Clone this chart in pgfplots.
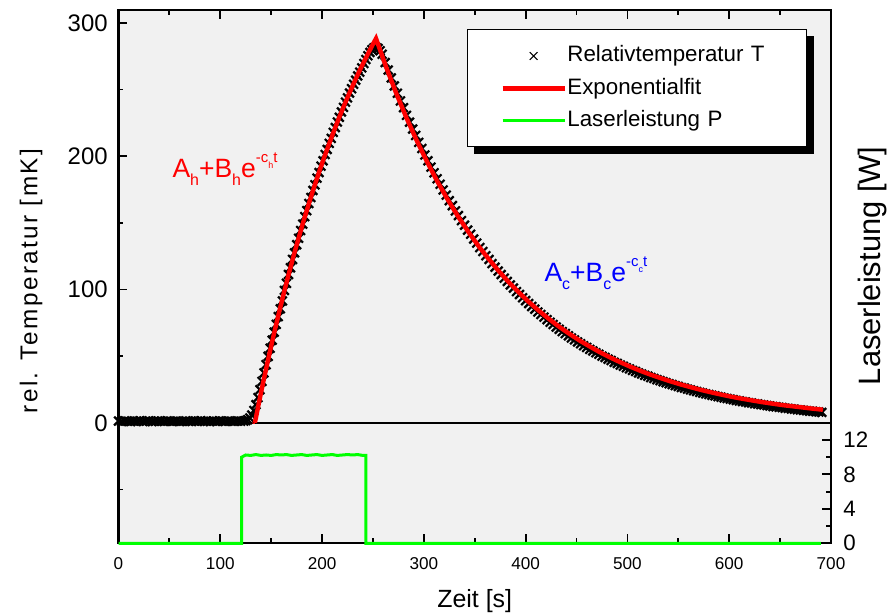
\documentclass[border=0pt]{standalone}
\usepackage{pgfplots}
\pgfplotsset{compat=1.18}
\usepackage{fontspec}
\setmainfont{Liberation Sans}
\newfontfamily\spaced{Liberation Sans}[LetterSpace=10]
\definecolor{bg}{RGB}{241,241,241}
\definecolor{pgreen}{RGB}{0,255,0}
\definecolor{pred}{RGB}{255,0,0}
\definecolor{pblue}{RGB}{0,0,255}
\pgfplotsset{xlegend/.style={legend image code/.code={\draw[##1, line width=0.5bp, mark size=2.75bp] plot coordinates {(15.5bp,0bp)};}}}
\newcommand{\fitexpr}[1]{A\raisebox{-4.2bp}{\fontsize{8}{9}\selectfont #1}+B\raisebox{-4.2bp}{\fontsize{8}{9}\selectfont #1}e\raisebox{7.3bp}{\fontsize{7.5}{8}\selectfont -c\raisebox{-2.9bp}{\fontsize{4.5}{5}\selectfont #1}t}}
\begin{document}
\begin{tikzpicture}
\begin{axis}[name=main,
  scale only axis, width=356.25bp, height=266.65bp,
  xmin=0, xmax=700, ymin=-90.4, ymax=309.6,
  clip=false, clip marker paths=true,
  axis background/.style={fill=bg},
  axis line style={line width=1bp},
  tick align=inside,
  major tick length=4.5bp, minor tick length=2.5bp,
  every tick/.style={black, line width=0.9bp},
  xtick={0,100,...,700}, minor xtick={50,150,...,650},
  ytick={0,100,200,300}, minor ytick={-50,50,150,250},
  ytick pos=left, xtick pos=both,
  /pgf/number format/assume math mode=true,
  xticklabel style={font=\fontsize{8.6}{10}\selectfont, anchor=center, yshift=-10.35bp, inner sep=0pt},
  yticklabel style={font=\fontsize{12}{14}\selectfont, anchor=east, xshift=-5.25bp, inner sep=0pt},
  xlabel={Zeit [s]}, ylabel={\spaced rel. Temperatur [mK]},
  xlabel style={font=\fontsize{12.5}{15}\selectfont, at={(axis description cs:0.5,-0.1082)}, anchor=center},
  ylabel style={font=\fontsize{12.2}{15}\selectfont, at={(axis description cs:-0.1228,0.4918)}, anchor=center},
  legend style={name=leg, at={(0.489,0.964)}, anchor=north west, draw=black, line width=0.5bp, fill=white,
    inner xsep=16.5bp, inner ysep=8bp, row sep=5.85bp,
    font=\fontsize{11.2}{13}\selectfont,
    nodes={inner sep=0pt, text height=8bp, text depth=2.3bp, text width=102.85bp, align=left},
    /tikz/every odd column/.append style={column sep=0.3bp}},
  legend cell align=left,
  legend image code/.code={\draw[mark repeat=2,mark phase=2,#1] plot coordinates {(0bp,0bp) (15.5bp,0bp) (31bp,0bp)};},
]
\addplot[black, line width=1bp, forget plot] coordinates {(0,0) (700,0)};
\addplot[pred, line width=1.2bp, forget plot] coordinates {(0,0) (134,0)};
\addplot[black, only marks, mark=x, mark size=3.1bp, line width=1.1bp, xlegend] coordinates {
(0,1.3) (3,1.0) (6,1.4) (9,1.1) (12,0.9) (15,1.3) (18,1.2) (21,1.5) (24,1.0) (27,1.2)
(30,1.4) (33,0.9) (36,1.1) (39,1.3) (42,1.2) (45,1.0) (48,1.4) (51,1.2) (54,1.1) (57,1.3)
(60,0.9) (63,1.2) (66,1.4) (69,1.1) (72,1.0) (75,1.3) (78,1.2) (81,1.5) (84,1.1) (87,1.2)
(90,0.9) (93,1.3) (96,1.1) (99,1.4) (102,1.2) (105,1.0) (108,1.3) (111,1.2) (114,1.1) (117,1.4)
(120,1.2) (123,1.3)
(125,1.6) (127,2.3) (129,3.6) (131,5.8) (133,9.2) (135,13.6) (137,18.9) (139,24.8) (141,31.0)
(143,37.4) (145,43.6) (147,49.8) (149,55.9) (151,61.9) (153,67.9) (155,73.8) (157,79.6)
(159,85.5) (161,91.4) (163,99.3) (165,104.6) (167,111.2) (169,116.3) (171,122.5) (173,127.5)
(175,133.6) (177,138.4) (179,144.2) (181,149.0) (183,154.6) (185,159.1) (187,164.5) (189,169.0)
(191,174.3) (193,178.5) (195,183.5) (197,187.7) (199,192.5) (201,196.5) (203,201.2) (205,205.0)
(207,209.6) (209,213.3) (211,217.8) (213,221.4) (215,225.6) (217,229.1) (219,233.2) (221,236.6)
(223,240.5) (225,243.7) (227,247.3) (229,250.6) (231,253.9) (233,257.0) (235,260.1) (237,263.0)
(239,266.2) (241,269.5) (243,272.5) (245,275.3) (247,277.8) (249,279.8) (251,281.2) (253,281.6)
(255,280.8) (257,279.0) (259,276.4)
(262,270.2) (265,264.6) (268,258.6) (271,252.7) (274,247.2) (277,241.4) (280,236.3) (283,230.6)
(286,225.5) (289,220.3) (292,215.5) (295,210.3) (298,205.7) (301,200.8) (304,196.5) (307,191.7)
(310,187.5) (313,183.0) (316,178.9) (319,174.6) (322,170.7) (325,166.6) (328,162.9) (331,158.9)
(334,155.4) (337,151.6) (340,148.2) (343,144.5) (346,141.4) (349,137.8) (352,134.8) (355,131.4)
(358,128.5) (361,125.3) (364,122.5) (367,119.4) (370,116.7) (373,113.8) (376,111.2) (379,108.5)
(382,106.0) (385,103.4) (388,101.0) (391,98.4) (394,96.2) (397,93.8) (400,91.6) (403,89.4)
(406,87.2) (409,85.2) (412,83.1) (415,81.2) (418,79.2) (421,77.3) (424,75.4) (427,73.7)
(430,71.8) (433,70.1) (436,68.4) (439,66.9) (442,65.2) (445,63.6) (448,62.2) (451,60.6)
(454,59.3) (457,57.8) (460,56.5) (463,55.1) (466,53.9) (469,52.5) (472,51.4) (475,50.0)
(478,49.0) (481,47.7) (484,46.7) (487,45.4) (490,44.5) (493,43.3) (496,42.4) (499,41.3)
(502,40.4) (505,39.3) (508,38.5) (511,37.4) (514,36.6) (517,35.6) (520,34.9) (523,33.9)
(526,33.2) (529,32.3) (532,31.6) (535,30.8) (538,30.1) (541,29.3) (544,28.7) (547,27.9)
(550,27.3) (553,26.5) (556,26.0) (559,25.2) (562,24.7) (565,24.0) (568,23.5) (571,22.8)
(574,22.3) (577,21.7) (580,21.2) (583,20.6) (586,20.2) (589,19.6) (592,19.2) (595,18.6)
(598,18.2) (601,17.7) (604,17.3) (607,16.8) (610,16.4) (613,15.9) (616,15.6) (619,15.1)
(622,14.8) (625,14.3) (628,14.1) (631,13.6) (634,13.3) (637,12.9) (640,12.6) (643,12.2)
(646,12.0) (649,11.6) (652,11.4) (655,10.9) (658,10.8) (661,10.4) (664,10.2) (667,9.8)
(670,9.6) (673,9.3) (676,9.1) (679,8.7) (682,8.6) (685,8.3) (688,8.1) (691,7.8)
};
\addlegendentry{Relativtemperatur T}
\addplot[pred, line width=2.2bp] coordinates {
(134,0) (138,15.1) (142,29.8) (146,43.9) (150,57.6) (154,70.8) (158,83.6) (162,95.9)
(166,107.9) (170,119.4) (174,130.6) (178,141.3) (182,151.8) (186,161.8) (190,171.6)
(194,181.0) (198,190.1) (202,198.9) (206,207.3) (210,215.5) (214,223.5) (218,231.2)
(222,238.6) (226,245.8) (230,252.7) (234,259.4) (238,265.9) (242,272.1) (246,278.1)
(250,284.0) (253,288.2)
(263,266.7) (273,246.9) (283,228.6) (293,211.7) (303,196.0) (313,181.4) (323,168.0)
(333,155.5) (343,144.0) (353,133.3) (363,123.5) (373,114.3) (383,105.8) (393,98.0)
(403,90.7) (413,84.0) (423,77.8) (433,72.0) (443,66.7) (453,61.7) (463,57.2) (473,52.9)
(483,49.0) (493,45.4) (503,42.0) (513,38.9) (523,36.0) (533,33.4) (543,30.9) (553,28.6)
(563,26.5) (573,24.5) (583,22.7) (593,21.0) (603,19.4) (613,18.0) (623,16.7) (633,15.4)
(643,14.3) (653,13.2) (663,12.3) (673,11.4) (683,10.5) (692,9.8)
};
\addlegendentry{Exponentialfit}
\addlegendimage{pgreen, line width=1.5bp}
\addlegendentry{Laserleistung P}
\node[pred, anchor=base west, inner sep=0pt, font=\fontsize{13.3}{15}\selectfont] at (axis cs:52.7,184.3) {\fitexpr{h}};
\node[pblue, anchor=base west, inner sep=0pt, font=\fontsize{13.3}{15}\selectfont] at (axis cs:418.2,106.3) {\fitexpr{c}};
\end{axis}
\begin{axis}[
  scale only axis, width=356.25bp, height=266.65bp,
  xmin=0, xmax=700, ymin=0, ymax=61.9,
  clip=false,
  hide x axis,
  axis line style={line width=1bp},
  tick align=inside,
  major tick length=4.5bp, minor tick length=2.5bp,
  every tick/.style={black, line width=0.9bp},
  ytick={0,4,8,12}, minor ytick={2,6,10,14},
  ytick pos=right, yticklabel pos=right,
  /pgf/number format/assume math mode=true,
  yticklabel style={font=\fontsize{11.2}{13}\selectfont, anchor=west, xshift=6bp, inner sep=0pt},
  ylabel={Laserleistung [W]},
  ylabel style={font=\fontsize{15.5}{18}\selectfont, at={(axis description cs:1.0582,0.5203)}, anchor=center},
]
\addplot[pgreen, line width=1.5bp] coordinates {
(0,0) (121,0) (121,10.0) (125,10.25) (130,10.2) (135,10.3) (140,10.2) (145,10.25) (150,10.2)
(155,10.3) (160,10.25) (165,10.3) (170,10.2) (175,10.25) (180,10.3) (185,10.2) (190,10.25)
(195,10.3) (200,10.2) (205,10.25) (210,10.3) (215,10.2) (220,10.25) (225,10.3) (230,10.25)
(235,10.3) (240,10.2) (243,10.2) (243,0) (690,0)
};
\end{axis}
\fill[black] ([yshift=-3.5bp]leg.north east) rectangle ([xshift=3.75bp,yshift=-3.5bp]leg.south east);
\fill[black] ([xshift=3.75bp,yshift=-3.5bp]leg.south west) rectangle (leg.south east);
\pgfresetboundingbox
\path[use as bounding box] ([xshift=-59.25bp,yshift=-35.35bp]main.south west) rectangle ([xshift=28bp,yshift=5bp]main.north east);
\end{tikzpicture}
\end{document}
